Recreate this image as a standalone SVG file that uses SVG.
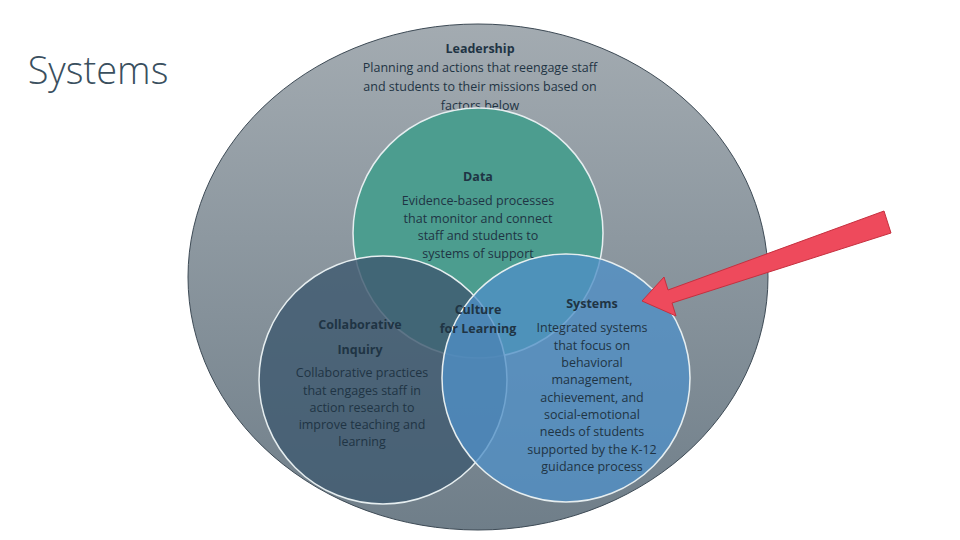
<svg xmlns="http://www.w3.org/2000/svg" width="960" height="540" viewBox="0 0 960 540">
<defs>
<linearGradient id="g" x1="0" y1="0" x2="0" y2="1"><stop offset="0" stop-color="#a3abb1"/><stop offset="1" stop-color="#6f7e89"/></linearGradient>
<style>
text{font-family:"Open Sans","Liberation Sans",sans-serif;font-size:12.5px;fill:#1f3444;text-anchor:middle}
.b{font-weight:bold}
.c{stroke:#e6eef0;stroke-width:1.5}
</style>
</defs>
<rect width="960" height="540" fill="#fff"/>
<text x="98" y="84" style="font-size:38px;fill:#3a4f5e;font-weight:300;font-family:'Open Sans',sans-serif">Systems</text>
<g id="leadership">
<ellipse cx="478" cy="277" rx="290" ry="253" fill="url(#g)" stroke="#3d4a55" stroke-width="1"/>
<text x="480" y="53" class="b">Leadership</text>
<text x="480" y="72">Planning and actions that reengage staff</text>
<text x="480" y="91">and students to their missions based on</text>
<text x="480" y="110">factors below</text>
</g>
<g id="data"><circle cx="478" cy="233" r="125" fill="#4c9d8f" class="c"/></g>
<g id="collab"><circle cx="383" cy="380" r="124" fill="#3f5a70" fill-opacity="0.82" class="c"/></g>
<g id="systems"><circle cx="566" cy="378" r="124" fill="#4f8fc7" fill-opacity="0.78" class="c"/></g>
<g id="labels">
<text x="478" y="181" class="b">Data</text>
<text x="478" y="205">Evidence-based processes</text>
<text x="478" y="223">that monitor and connect</text>
<text x="478" y="240">staff and students to</text>
<text x="478" y="258">systems of support</text>
<text x="360" y="329" class="b">Collaborative</text>
<text x="360" y="354" class="b">Inquiry</text>
<text x="362" y="377">Collaborative practices</text>
<text x="362" y="395">that engages staff in</text>
<text x="362" y="412">action research to</text>
<text x="362" y="429">improve teaching and</text>
<text x="362" y="446">learning</text>
<text x="478" y="314" class="b">Culture</text>
<text x="478" y="333" class="b">for Learning</text>
<text x="592" y="308" class="b">Systems</text>
<text x="592" y="332">Integrated systems</text>
<text x="592" y="350">that focus on</text>
<text x="592" y="367">behavioral</text>
<text x="592" y="384">management,</text>
<text x="592" y="402">achievement, and</text>
<text x="592" y="419">social-emotional</text>
<text x="592" y="436">needs of students</text>
<text x="592" y="454">supported by the K-12</text>
<text x="592" y="471">guidance process</text>
</g>
<g id="connectors">
<polygon points="884,211 891,233 672,303 676,316 642,301 664,277 668,290" fill="#ee4a5c" stroke="#c5303f" stroke-width="1"/>
</g>
</svg>
